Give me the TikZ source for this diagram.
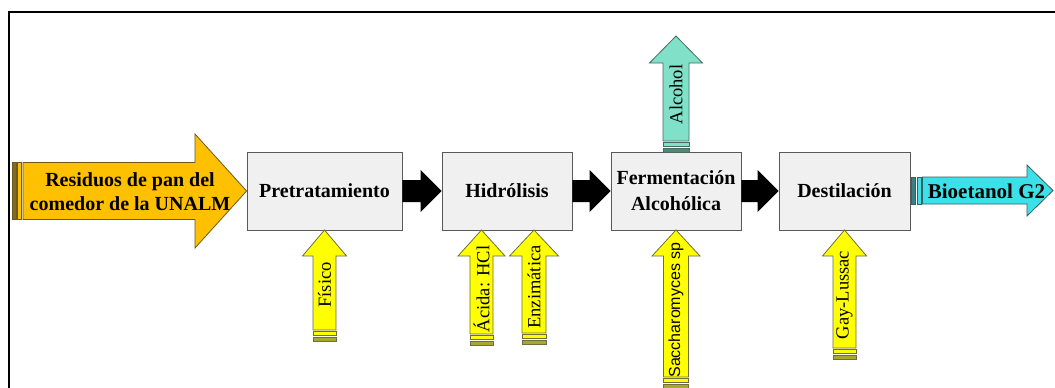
\documentclass[tikz,border=0pt]{standalone}
\usepackage{fontspec}
\setmainfont{Liberation Serif}
\setsansfont{Liberation Sans}
\usetikzlibrary{calc}
\pgfdeclarelayer{bg}
\pgfsetlayers{bg,main}
\definecolor{boxfill}{HTML}{F0F0F0}
\definecolor{boxline}{HTML}{595959}
\definecolor{glowc}{HTML}{B4D484}
\definecolor{orangef}{HTML}{FFC000}
\definecolor{oranged}{HTML}{7F6A2A}
\definecolor{orangel}{HTML}{6B5A1E}
\definecolor{yellowf}{HTML}{FFFF00}
\definecolor{yellowd}{HTML}{A8A830}
\definecolor{yellowl}{HTML}{6E6E40}
\definecolor{cyanf}{HTML}{3CE0E8}
\definecolor{cyand}{HTML}{3A7F84}
\definecolor{cyanl}{HTML}{3A5F60}
\definecolor{aquaf}{HTML}{80E0C8}
\definecolor{aquad}{HTML}{4A8A78}
\definecolor{aqual}{HTML}{4A6A60}
% vertical up block arrow: cx, tip y, head base y, body bottom y, body half, head half, fill, dark stripe, line
\newcommand\UpArr[9]{%
  \filldraw[fill=#7, draw=#9, line width=0.8pt, line join=miter]
    (#1-#5,#4) -- (#1-#5,#3) -- (#1-#6,#3) -- (#1,#2) -- (#1+#6,#3) -- (#1+#5,#3) -- (#1+#5,#4) -- cycle;
  \filldraw[fill=#7, draw=#9, line width=0.8pt] (#1-#5,#4+1) rectangle (#1+#5,#4+5);
  \filldraw[fill=#8, draw=#9, line width=0.8pt] (#1-#5,#4+7) rectangle (#1+#5,#4+11);
}
\newcommand\HArr[2]{%
  \fill[black] ($(#1)+(0,-11)$) -- ($(#2)+(-21,-11)$) -- ($(#2)+(-21,-21)$) -- (#2)
    -- ($(#2)+(-21,21)$) -- ($(#2)+(-21,11)$) -- ($(#1)+(0,11)$) -- cycle;
}
\begin{document}
\begin{tikzpicture}[x=1pt,y=-1pt,
  box/.style={draw=boxline, fill=boxfill, line width=0.8pt, minimum width=130pt,
    minimum height=78pt, inner sep=0pt, align=center,
    font=\bfseries\fontsize{20}{26}\selectfont},
  lbl/.style={rotate=90, inner sep=0pt, font=\fontsize{18.5}{20}\selectfont},
  big/.style={inner sep=0pt, align=center, font=\bfseries\fontsize{20}{24}\selectfont}]
\useasboundingbox (0,0) rectangle (1055,388);
\fill[white] (0,0) rectangle (1055,388);
% frame
\draw[line width=2pt] (9,388) -- (9,12) -- (1055,12);

% process boxes
\node[box, minimum width=155pt] (P) at (324.5,191) {Pretratamiento};
\node[box] (H) at (507,191) {Hidrólisis};
\node[box] (F) at (676,191) {Fermentación\\Alcohólica};
\node[box, minimum width=131pt] (D) at (844.5,191) {Destilación};

% glow
\begin{pgfonlayer}{bg}
\foreach \n in {P,H,F,D}{
  \foreach \k in {2,4,6,8,10}{
    \fill[glowc, opacity=0.2, rounded corners=\k pt]
      ($(\n.south west)+(-\k,\k)$) rectangle ($(\n.north east)+(\k,-\k)$);
  }
}
\end{pgfonlayer}

% connectors between boxes
\HArr{P.east}{H.west}
\HArr{H.east}{F.west}
\HArr{F.east}{D.west}

% input arrow
\filldraw[fill=oranged, draw=orangel, line width=0.8pt] (12,162.5) rectangle (16,219.5);
\filldraw[fill=orangef, draw=orangel, line width=0.8pt] (17.5,162.5) rectangle (21.5,219.5);
\filldraw[fill=orangef, draw=orangel, line width=0.8pt, line join=miter]
  (23,162.5) -- (195,162.5) -- (195,134) -- (P.west) -- (195,248) -- (195,219.5) -- (23,219.5) -- cycle;
\node[big] (inp) at (130,192) {Residuos de pan del\\comedor de la UNALM};

% output arrow
\filldraw[fill=cyand, draw=cyanl, line width=0.8pt] (911.5,177) rectangle (915.5,204);
\filldraw[fill=cyanf, draw=cyanl, line width=0.8pt] (917,177) rectangle (921,204);
\filldraw[fill=cyanf, draw=cyanl, line width=0.8pt, line join=miter]
  (922.5,177) -- (1027,177) -- (1027,165) -- (1053,190.5) -- (1027,216) -- (1027,204) -- (922.5,204) -- cycle;
\node[inner sep=0pt, font=\bfseries\fontsize{21}{24}\selectfont] (out) at (986.5,191) {Bioetanol G2};

% alcohol output (up)
\filldraw[fill=aquaf, draw=aqual, line width=0.8pt, line join=miter]
  (663,141) -- (663,63) -- (649.5,63) -- (676,36) -- (702.5,63) -- (689,63) -- (689,141) -- cycle;
\filldraw[fill=aquaf, draw=aqual, line width=0.8pt] (663,142.5) rectangle (689,146.5);
\filldraw[fill=aquad, draw=aqual, line width=0.8pt] (663,148) rectangle (689,152);
\node[lbl] (alc) at (676,94.5) {Alcohol};

% yellow inputs
\UpArr{324.5}{230}{256}{330}{11.5}{22}{yellowf}{yellowd}{yellowl}
\node[lbl] (fis) at (324.5,285) {Físico};
\UpArr{481.5}{230}{256}{334}{11.5}{23.5}{yellowf}{yellowd}{yellowl}
\node[lbl] (aci) at (481.5,289) {Ácida: HCl};
\UpArr{534}{230}{256}{333}{12}{24.5}{yellowf}{yellowd}{yellowl}
\node[lbl] (enz) at (534,287) {Enzimática};
\UpArr{676}{230}{256}{377}{12.5}{24}{yellowf}{yellowd}{yellowl}
\node[lbl, font=\sffamily\fontsize{16}{18}\selectfont] (sac) at (676,310) {Saccharomyces sp};
\UpArr{844.5}{230}{256}{348}{11.5}{22}{yellowf}{yellowd}{yellowl}
\node[lbl] (gay) at (844.5,295) {Gay-Lussac};
\end{tikzpicture}
\end{document}
